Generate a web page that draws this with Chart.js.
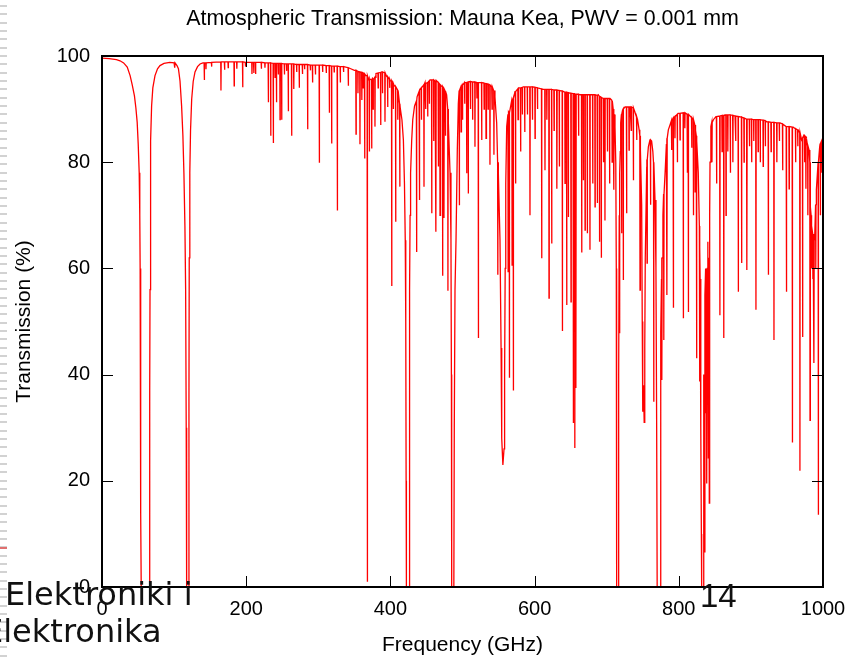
<!DOCTYPE html>
<html>
<head>
<meta charset="utf-8">
<title>Atmospheric Transmission</title>
<script src="https://cdn.jsdelivr.net/npm/chart.js@4.4.1/dist/chart.umd.min.js"></script>
<style>
  body { margin: 0; background: #fff; }
  #wrap { position: relative; width: 846px; height: 657px; overflow: hidden; }
  #chartBox { position: absolute; left: 0; top: 0; width: 846px; height: 657px; }
  .edge { position: absolute; left: 0; top: 0; width: 7px; height: 657px;
          background: repeating-linear-gradient(to bottom, transparent 0 5px, #d2d2d2 5px 7px, transparent 7px 8.33px); }
  .edge-red { position: absolute; left: 0; top: 547px; width: 7px; height: 2px; background: #e07070; }
  .slide { position: absolute; white-space: nowrap; color: #111; }
  .slide.big { font: 32px/32px "DejaVu Sans", Verdana, sans-serif; }
  .slide.num { font: 33px/33px "Liberation Sans", Arial, sans-serif; }
</style>
</head>
<body>
<div id="wrap">
  <div id="chartBox"><canvas id="atmChart"></canvas></div>
  <div class="edge"></div>
  <div class="edge-red"></div>
  <div class="slide big" style="left:5px; top:578px;">Elektroniki i</div>
  <div class="slide big" style="left:-17px; top:615px;">Elektronika</div>
  <div class="slide num" style="left:700px; top:579px;">14</div>
</div>
<script>
// axis setup
const chartTitle = 'Atmospheric Transmission: Mauna Kea, PWV = 0.001 mm';
const xTicks = [0, 200, 400, 600, 800, 1000];   // GHz
const yTicks = [0, 20, 40, 60, 80, 100];        // %

// smooth continuum + walls of the deep lines, [GHz, %]
const o2Bands60And119 = [
  [0,99.6],[10,99.5],[20,99.3],[25,99.1],[30,98.7],[35,97.9],[39,96.3],[42,94.5],[45,92.5],[47,90.2],
  [48.8,87.5],[50.2,83.5],[51.6,78],[52.4,70],[52.9,60],[53.4,40],[53.9,14],[54.4,0],
  [65.4,0],[65.9,12],[66.2,36],[66.4,37],[66.6,56],[67,72],[67.8,84],[68.8,90.6],[70.5,94],[73.5,96.3],
  [77,97.6],[80.4,98.2],[86,98.6],[94,98.8],[100,98.7],[104,98.2],[106,97.6],[108.2,95.3],[110.4,90.6],
  [112.2,85],[113.6,78],[115,68],[116,56],[116.8,30],[117.4,0],[120.2,0],[120.6,35],[121,62],[121.8,78],
  [122.8,86],[124.4,91.9],[126.5,95.2],[129,97],[132.5,98],[136,98.5],[140,98.7]
];
const window140to345 = [[180,98.9],[220,98.8],[260,98.5],[300,98.3],[330,98.0],[345,97.6]];
const window345to490 = [
  [350,97.3],[358.5,97],[366,96.3],[370,95.5],[375,95.8],[380,96.7],[388,97],[395,96.1],[400,95.3],
  [405,94.5],[410,93.6],[413.5,90.4],[416,88],[418,84.2],[419.5,76],[420.6,65.3],[421.3,50],[421.8,20],
  [422.2,0],[426,0],[426.4,40],[426.8,56],[427.3,70],[428,77.9],[429.5,84],[431,88],[433.5,90.6],
  [437,92.3],[441,93.6],[448,95],[455,95.5],[462,95.3],[470,94.5],[476,93.4],[478,92.7],[480.4,87.4],
  [482.7,78],[484,65.3],[484.6,40],[485,0],[488,0],[488.6,30],[489.6,56]
];
const window490to715 = [
  [491,65.3],[492.8,82.3],[494.2,91],[498.9,94.2],[503.5,95],[510.4,95.2],[524.3,95],[533.6,94.8],
  [540.5,94.2],[545,92.3],[547.4,87.4],[549.7,78],[552,65.3],[553.5,45],[554.4,28],[556,23],[557.6,26],
  [558.4,40],[559.2,60],[560,76],[561.3,86.7],[564,89.5],[568.3,91.7],[572.8,93.3],[578,94],[584.3,94.2],
  [596,94.2],[612,93.7],[630.6,93.6],[649,93],[663,92.7],[688.3,92.7],[693.5,92.1],[699,92],[704.6,92],
  [706.9,91.7],[709,90],[711.5,86.7],[712.6,80],[713.3,60],[713.8,0]
];
const window715to1000 = [
  [716,0],[716.6,40],[717.4,70],[718.8,82],[719.4,87.4],[722,89.8],[725.4,90.4],[732.5,90.4],[739,89.5],
  [742.8,88],[745,86.1],[747,82.3],[748.5,72],[749.3,50],[750,33],[751,38],[752,31],[752.8,45],[753.5,62],
  [755.5,79],[757.8,82.9],[760,84.2],[762.3,84],[764,82],[767,72.9],[768.3,60],[769.3,30],[770,0],
  [774,0],[774.6,30],[775.3,48],[776,58],[778,70],[781,78],[782.8,83.4],[785.5,86.1],[787.8,87],[792,88.3],
  [799,89.2],[806,89.3],[813,88.9],[820,88],[823.5,86],[825.2,84],[827,78],[828.5,68],[829.6,58],
  [830.5,30],[831.3,10],[831.7,0],[834,0],[834.6,40],[835.4,6.6],[836.2,55],[837.2,60],[837.7,32.7],
  [838.2,50],[838.7,19.5],[839.5,60],[840.3,65],[841,24.3],[841.6,62],[842.3,15.8],[842.8,70],[843.3,80],
  [844.5,86.7],[848,88],[851.5,88.6],[864,88.9],[878,88.7],[894,88.1],[912.6,88],[922,87.6],[940.4,87.4],
  [949.6,86.7],[958.6,86.6],[965.6,86.1],[970.3,84.2],[973.5,85.1],[977,84.5],[980.7,82.3],[982.6,71.6],
  [984.5,68],[988.4,65.3],[990.8,74.8],[995.4,82.9],[1000,84.2]
];

// narrow absorption lines, [GHz, continuum %, minimum %]
const linesBelow345 = [
  [101,98.7,97.8],[141.9,98.7,95.5],[144.2,98.7,97.5],[152,98.8,98.0],[165,98.9,93.5],[170,98.9,97.4],
  [175,98.9,97.8],[183.3,98.9,94.4],[187,98.9,97.6],[195.1,98.9,94.1],[199,98.8,98],[208,98.8,96.6],
  [210.5,98.8,96.8],[213,98.8,96.6],[221,98.8,97.6],[226,98.7,97.8],[230.7,98.7,91.3],[234,98.7,85],
  [237.6,98.6,83.6],[240,98.6,96],[242,98.6,91.3],[244.5,98.6,96.5],[246.9,98.6,88],[249.2,98.6,88],
  [253,98.5,96.5],[256,98.5,97.2],[258.4,98.5,89.6],[263,98.5,85],[266,98.5,93.8],[270,98.4,97],
  [273.6,98.4,94],[278,98.4,96.6],[281,98.4,97.5],[285.2,98.4,86.2],[289,98.3,97.3],[292,98.3,95],
  [296,98.3,96.5],[301.4,98.3,79.9],[306,98.3,97],[311,98.2,96.8],[315.3,98.2,89.3],[318.5,98.1,83.5],
  [322,98.1,97],[326.4,98.1,70.9],[330.5,98,95],[335,98,97],[341.6,97.8,94.4]
];
const lines345to490 = [
  [352.3,97.3,85.3],[355,97.1,93],[357.8,97,83.4],[360.4,96.9,91.7],[362,96.8,94],[364.3,96.6,80.7],
  [368,96.3,1],[370.8,95.7,82],[374,95.5,82.6],[376,95.6,90],[378.6,96,86.7],[383,96.8,94],[386.5,96.9,87],
  [389,97,93],[392.5,96.8,87.6],[396.2,96.1,90.4],[399,95.6,94],[401.8,95.3,56.7],[404,94.8,90],
  [407.3,94.2,68.8],[410.4,93.5,88],[413,91,75.4],[436.3,91.5,63.1],[440,93.3,72.9],[443,94,88],
  [446.6,94.6,75.4],[449,94.8,90],[451.7,95,88.6],[454,95.3,91],[457.3,95.5,70.4],[460,95.5,84],
  [463.2,95.4,66.9],[466.5,95,79.2],[468.8,94.7,70],[472.4,94.2,58.6],[474.3,93.8,69.5],[476.5,93.3,85],
  [479.8,90,55.8]
];
const lines490to560 = [
  [495.6,93.5,71.9],[498,94.2,85.7],[500,94.5,88],[503,95,91],[505.8,95,77.9],[508,95.1,74.1],[511,95.2,90],
  [514,95.1,88],[517.3,95.1,82.9],[520,95,92],[522,95,46.9],[526.6,95,84.2],[530,94.9,90],[532.6,94.8,84.5],
  [535.5,94.7,90],[538.1,94.5,79.5],[541,94.2,90],[543.6,93.5,81.4],[549,80,58.8]
];
const lines560to715 = [
  [563.3,89,59.4],[565,89.3,39.4],[568.8,91.5,60.6],[570.5,92,37],[573.6,93.3,76],[577,93.8,88],
  [580.6,94,82],[583,94.1,89],[586.3,94.2,85.7],[590,94.2,89],[593.6,94.2,70],[597,94.2,88],
  [600.6,94.1,84.5],[604,94,90],[609.8,93.8,61.9],[614.4,93.7,78.5],[617,93.7,88],[620,93.7,54.4],
  [623.7,93.7,64.7],[627,93.6,86],[631,93.6,75],[634.3,93.5,79.2],[638.5,93.4,48.2],[642.2,93.2,76],
  [644.5,93.2,53.1],[646.8,93.1,69.7],[650.5,93,53.7],[653.7,92.9,30.9],[655.8,92.9,26.2],[657.4,92.8,37.5],
  [661,92.8,85],[665.3,92.7,63],[667.6,92.7,76.6],[670,92.7,67.2],[673.1,92.7,66.6],[676.8,92.7,63.5],
  [680.6,92.7,76],[683.8,92.7,71.6],[687,92.6,72.3],[690,92.4,65],[692.5,92.2,62],[695.5,92,80],
  [697.6,92,69],[701,92,82],[704,92,76],[707.5,91.5,80],[710,89,74.8]
];
const lines715to835 = [
  [718,78,47.8],[720.7,89,66.6],[723,90,57.8],[727.6,90.4,70.4],[731,90.4,82.3],[734,90.4,86],
  [737,90.2,76.6],[741.6,88.5,84.2],[746.2,85,55.9],[756,80.5,61],[760.8,84.2,72],[765.2,80,34.9],
  [776.6,62,39],[779.2,74,46.5],[783.6,84.5,55],[790,87.8,82.3],[792.6,88.3,52.6],[794.7,88.6,84.5],
  [798,89,80],[801.7,89.2,84.2],[806.4,89.3,50.6],[808.4,89.3,86.4],[811.8,89,78],[813.4,89,51.8],
  [817.9,88.4,82.7],[820.4,88,70],[822.6,87,74.4],[824.5,85,43.1],[829,64,38.7]
];
const lines835to1000 = [
  [846,87.5,80],[852.4,88.6,76],[857,88.7,51.2],[860,88.8,82],[862.4,88.8,46.9],[865.5,88.9,70],
  [868,88.9,82],[871.5,88.9,78],[875,88.8,80],[879,88.7,84],[882.5,88.6,55.6],[887.1,88.5,61],
  [890.5,88.3,80],[894.5,88.1,59.7],[898,88.1,83],[901,88.1,80],[904,88,84],[907,88,52.2],[910,88,82],
  [913,88,80],[917,87.9,79.2],[920,87.8,83],[924.2,87.6,58.8],[928,87.5,82],[932,87.5,46.5],[936,87.4,80],
  [939.5,87.4,84],[944,87.2,78.5],[949.2,86.7,55.6],[953,86.7,75],[957.5,86.6,27.2],[962,86.3,80],
  [965,86.1,83],[968,85.5,21.9],[971.7,84.5,47.1],[974.5,85,80],[976.3,84.8,75],[979,83,70],
  [982,80,31.4],[983.8,70,60],[986,66.5,58],[987.5,65.8,42.2],[990,72,60],[993.5,80,13.6],
  [996.3,83.5,70],[998.3,84,78]
];

// build one sorted x/y series for the line chart
const LINE_HALF_WIDTH = 0.3; // GHz, drawing width of a narrow line
const spectrum = [];
[o2Bands60And119, window140to345, window345to490, window490to715, window715to1000].forEach(seg =>
  seg.forEach(([f, t]) => spectrum.push({x: f, y: t})));
[linesBelow345, lines345to490, lines490to560, lines560to715, lines715to835, lines835to1000].forEach(list =>
  list.forEach(([f, cont, min]) => {
    spectrum.push({x: f - LINE_HALF_WIDTH, y: cont}, {x: f, y: min}, {x: f + LINE_HALF_WIDTH, y: cont});
  }));
spectrum.sort((a, b) => a.x - b.x);

// gnuplot look: full border, inward ticks on all four sides, title over the plot
const gnuplotFrame = {
  id: 'gnuplotFrame',
  afterDatasetsDraw(chart) {
    const {ctx, chartArea: a, scales: {x, y}} = chart;
    const tick = 11;
    ctx.save();
    ctx.strokeStyle = '#000';
    ctx.lineWidth = 1;
    ctx.beginPath();
    xTicks.slice(1, -1).forEach(v => {
      const px = Math.round(x.getPixelForValue(v)) + 0.5;
      ctx.moveTo(px, a.bottom); ctx.lineTo(px, a.bottom - tick);
      ctx.moveTo(px, a.top); ctx.lineTo(px, a.top + tick);
    });
    yTicks.slice(1, -1).forEach(v => {
      const py = Math.round(y.getPixelForValue(v)) + 0.5;
      ctx.moveTo(a.left, py); ctx.lineTo(a.left + tick, py);
      ctx.moveTo(a.right, py); ctx.lineTo(a.right - tick, py);
    });
    ctx.stroke();
    ctx.lineWidth = 2;
    ctx.strokeRect(a.left, a.top, a.right - a.left, a.bottom - a.top);
    ctx.fillStyle = '#000';
    ctx.font = '21.4px "Liberation Sans", Arial, sans-serif';
    ctx.textAlign = 'center';
    ctx.textBaseline = 'middle';
    ctx.fillText(chartTitle, (a.left + a.right) / 2, 19);
    ctx.restore();
  }
};

Chart.defaults.font.family = '"Liberation Sans", Arial, sans-serif';
Chart.defaults.color = '#000';

new Chart(document.getElementById('atmChart'), {
  type: 'line',
  data: {
    datasets: [{
      label: 'Transmission',
      data: spectrum,
      parsing: false,
      borderColor: '#ff0000',
      borderWidth: 1.3,
      pointRadius: 0,
      tension: 0,
      fill: false
    }]
  },
  options: {
    responsive: true,
    maintainAspectRatio: false,
    animation: false,
    events: [],
    layout: { padding: { top: 56, right: 23, left: 0, bottom: 0 } },
    plugins: {
      legend: { display: false },
      tooltip: { enabled: false },
      title: { display: false }
    },
    scales: {
      x: {
        type: 'linear',
        min: 0,
        max: 1000,
        afterBuildTicks: s => { s.ticks = xTicks.map(v => ({ value: v })); },
        afterFit: s => { s.height = 70; s.paddingLeft = 0; s.paddingRight = 0; },
        grid: { display: false, drawTicks: false },
        border: { display: false },
        ticks: { font: { size: 20 }, padding: 10, maxRotation: 0, color: '#000', callback: v => String(v) },
        title: {
          display: true,
          text: 'Frequency (GHz)',
          font: { size: 21 },
          color: '#000',
          padding: { top: 0, bottom: -1 }
        }
      },
      y: {
        min: 0,
        max: 100,
        afterBuildTicks: s => { s.ticks = yTicks.map(v => ({ value: v })); },
        afterFit: s => { s.width = 102; s.paddingTop = 0; s.paddingBottom = 0; },
        grid: { display: false, drawTicks: false },
        border: { display: false },
        ticks: { font: { size: 20 }, padding: 12, color: '#000', callback: v => String(v) },
        title: {
          display: true,
          text: 'Transmission (%)',
          font: { size: 21 },
          color: '#000',
          padding: { top: 12, bottom: 0 }
        }
      }
    }
  },
  plugins: [gnuplotFrame]
});
</script>
</body>
</html>
